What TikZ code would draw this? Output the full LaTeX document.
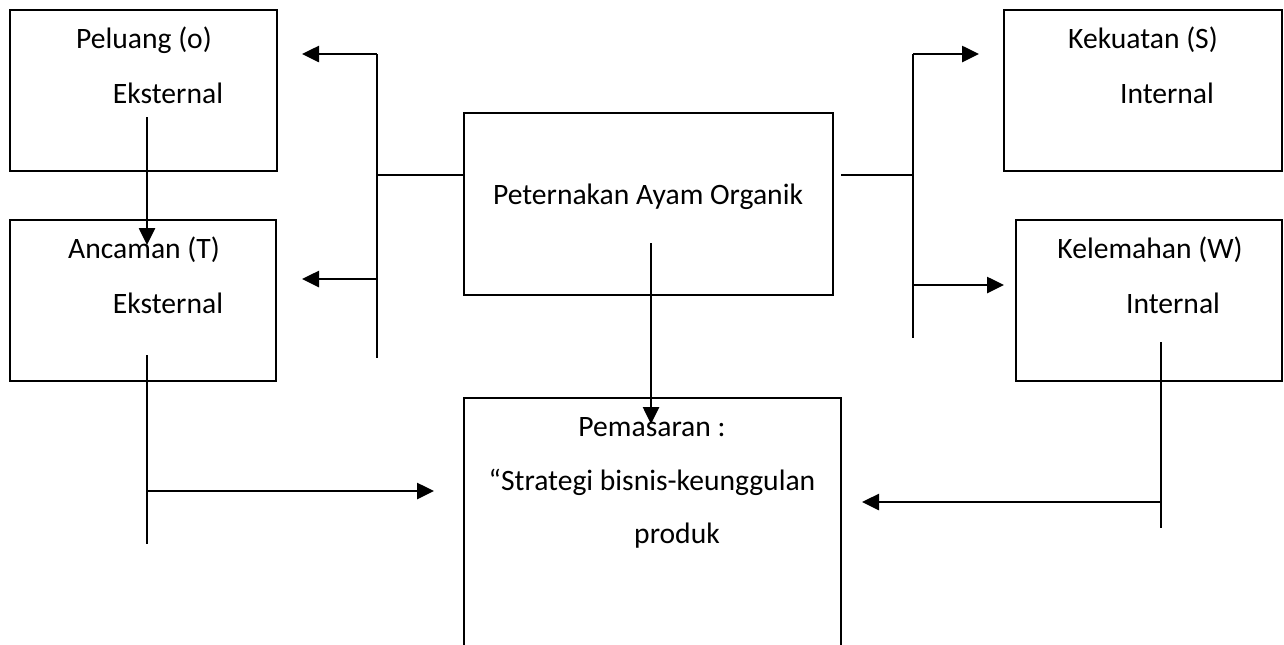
\documentclass[tikz,border=0pt]{standalone}
\usepackage{fontspec}
\setmainfont{Carlito}
\usepackage{xcolor}
\usepackage{tikz}
\usetikzlibrary{arrows.meta,positioning}

\begin{document}
\begin{tikzpicture}[
  x=0.5pt, y=-0.5pt,
  kotak/.style={rectangle, draw, line width=1pt, inner sep=0pt},
  teks/.style={inner sep=0pt, font=\fontsize{14.8}{17}\selectfont},
  garis/.style={line width=1.3pt},
  tipis/.style={line width=0.7pt},
  panah/.style={-{Triangle[length=8.5pt,width=8pt]}, line width=1.3pt}
]
\clip (0,0) rectangle (1284,644);

\node[kotak, minimum width=133.5pt, minimum height=80.5pt] (peluang) at (143.5,90.5) {};
\node[kotak, minimum width=133pt, minimum height=80.5pt] (ancaman) at (143,300.5) {};
\node[kotak, minimum width=184.5pt, minimum height=91pt] (ternak) at (648.5,204) {};
\node[kotak, minimum width=139pt, minimum height=80.5pt] (kekuatan) at (1143,90.5) {};
\node[kotak, minimum width=133pt, minimum height=80.5pt] (kelemahan) at (1149,300.5) {};
\node[kotak, minimum width=188.5pt, minimum height=151pt] (pemasaran) at (652.5,549) {};

\node[teks] (peluang-t) at (144,40) {Peluang (o)};
\node[teks] (peluang-e) at (168,93) {Eksternal};
\node[teks] (ancaman-t) at (144,250) {Ancaman (T)};
\node[teks] (ancaman-e) at (168,303) {Eksternal};
\node[teks] (ternak-t) at (648,197) {Peternakan Ayam Organik};
\node[teks] (kekuatan-t) at (1143,40) {Kekuatan (S)};
\node[teks] (kekuatan-i) at (1167,93) {Internal};
\node[teks] (kelemahan-t) at (1150,250) {Kelemahan (W)};
\node[teks] (kelemahan-i) at (1173,303) {Internal};
\node[teks] (pemasaran-t) at (652,427) {Pemasaran :};
\node[teks] (pemasaran-s) at (652,482) {“Strategi bisnis-keunggulan};
\node[teks] (pemasaran-p) at (677,536) {produk};

\coordinate (pl-a) at (147,117);
\coordinate (pl-b) at (147,245);
\coordinate (kiri-atas) at (377,54);
\coordinate (kiri-tengah) at (377,175);
\coordinate (kiri-bawah) at (377,358);
\coordinate (kiri-s1) at (377,279);
\coordinate (ke-peluang) at (302,54);
\coordinate (ke-ancaman) at (302,279);
\coordinate (kanan-mulai) at (841,175);
\coordinate (kanan-atas) at (913,54);
\coordinate (kanan-tengah) at (913,175);
\coordinate (kanan-bawah) at (913,338);
\coordinate (kanan-s1) at (913,285);
\coordinate (ke-kekuatan) at (979,54);
\coordinate (ke-kelemahan) at (1004,285);
\coordinate (tr-a) at (651,243);
\coordinate (tr-b) at (651,424);
\coordinate (an-a) at (147,355);
\coordinate (an-b) at (147,544);
\coordinate (an-s) at (147,491);
\coordinate (an-ujung) at (434,491);
\coordinate (kl-a) at (1161,342);
\coordinate (kl-b) at (1161,528);
\coordinate (kl-s) at (1161,502);
\coordinate (kl-ujung) at (862,502);

\draw[panah] (pl-a) -- (pl-b);
\draw[garis] (kiri-atas) -- (kiri-bawah);
\draw[panah] (kiri-atas) -- (ke-peluang);
\draw[panah] (kiri-s1) -- (ke-ancaman);
\draw[tipis] (kiri-tengah) -- (kiri-tengah -| ternak.west);
\draw[tipis] (kanan-mulai) -- (kanan-tengah);
\draw[garis] (kanan-atas) -- (kanan-bawah);
\draw[panah] (kanan-atas) -- (ke-kekuatan);
\draw[panah] (kanan-s1) -- (ke-kelemahan);
\draw[panah] (tr-a) -- (tr-b);
\draw[garis] (an-a) -- (an-b);
\draw[panah] (an-s) -- (an-ujung);
\draw[garis] (kl-a) -- (kl-b);
\draw[panah] (kl-s) -- (kl-ujung);
\end{tikzpicture}
\end{document}
